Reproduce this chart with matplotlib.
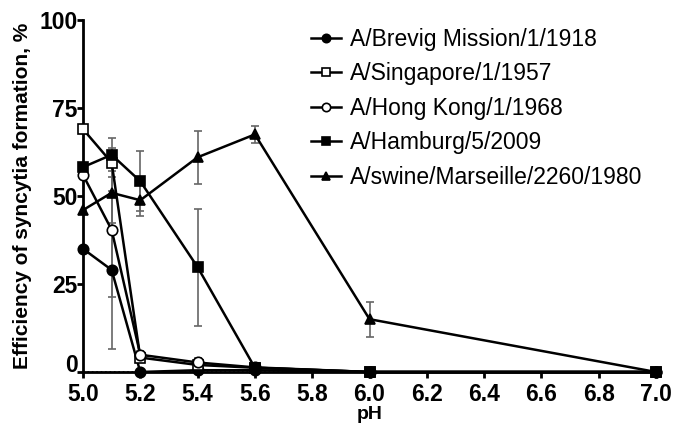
import matplotlib
matplotlib.use("Agg")
import matplotlib.pyplot as plt

plt.rcParams['font.family'] = 'Liberation Sans'

ph = [5.0, 5.1, 5.2, 5.4, 5.6, 6.0, 7.0]

brevig = [35, 29, 0, 0.5, 0.5, 0, 0]
brevig_err = [0, 22.4, 0, 0.3, 0.3, 0, 0]
singapore = [69, 59.5, 4.1, 2, 1.2, 0, 0]
singapore_err = [0, 4, 0.8, 0.8, 0.4, 0, 0]
hongkong = [56, 40.4, 4.9, 2.7, 1.3, 0, 0]
hongkong_err = [0, 19, 1, 1.2, 0.5, 0, 0]
hamburg = [58.2, 61.7, 54.2, 29.8, 1.2, 0, 0]
hamburg_err = [0, 4.7, 8.6, 16.6, 0.5, 0, 0]
swine = [46, 50.9, 48.8, 61, 67.5, 15, 0]
swine_err = [0, 8.5, 4.4, 7.5, 2.3, 5, 0]

labels = ["A/Brevig Mission/1/1918", "A/Singapore/1/1957", "A/Hong Kong/1/1968",
          "A/Hamburg/5/2009", "A/swine/Marseille/2260/1980"]

fig = plt.figure(figsize=(6.83, 4.26), dpi=100)
ax = fig.add_axes([0.1215, 0.1268, 0.839, 0.8262])

ax.axhline(0, color='black', ls=':', lw=1.2, zorder=1)

series = [
    (brevig, brevig_err, 'o', 'black'),
    (singapore, singapore_err, 's', 'white'),
    (hongkong, hongkong_err, 'o', 'white'),
    (hamburg, hamburg_err, 's', 'black'),
    (swine, swine_err, '^', 'black'),
]
for (y, e, m, fc), lab in zip(series, labels):
    ax.errorbar(ph, y, yerr=e, fmt='none', ecolor='#666666', elinewidth=1.2,
                capsize=3, capthick=1.2, zorder=2)
    ax.plot(ph, y, marker=m, color='black', mfc=fc, mec='black', mew=1.2,
            ms=7.5, lw=1.8, label=lab, zorder=3, clip_on=False)

ax.set_xlim(5.0, 7.0)
ax.set_ylim(0, 100)
ax.set_xticks([5.0, 5.2, 5.4, 5.6, 5.8, 6.0, 6.2, 6.4, 6.6, 6.8, 7.0])
ax.set_xticklabels(["5.0", "5.2", "5.4", "5.6", "5.8", "6.0", "6.2", "6.4", "6.6", "6.8", "7.0"])
ax.set_yticks([0, 25, 50, 75, 100])

for s in ['top', 'right']:
    ax.spines[s].set_visible(False)
for s in ['left', 'bottom']:
    ax.spines[s].set_linewidth(2)
ax.tick_params(width=2, length=4, labelsize=16.5)
ax.tick_params(axis='x', pad=4)
ax.tick_params(axis='y', pad=0)
for t in ax.get_xticklabels() + ax.get_yticklabels():
    t.set_fontweight('bold')
# keep the "0" clear of the "5.0" below it
ax.get_yticklabels()[0].set_va('baseline')

ax.set_xlabel("pH", fontsize=14, fontweight='bold', labelpad=0)
ax.set_ylabel("Efficiency of syncytia formation, %", fontsize=15, fontweight='bold', labelpad=5)

ax.legend(loc='upper left', bbox_to_anchor=(0.398, 0.978), frameon=False, fontsize=16.5,
          borderpad=0, borderaxespad=0, markerscale=0.8,
          handlelength=1.3, handletextpad=0.4, labelspacing=0.5)

fig.savefig("out.png", dpi=100)
